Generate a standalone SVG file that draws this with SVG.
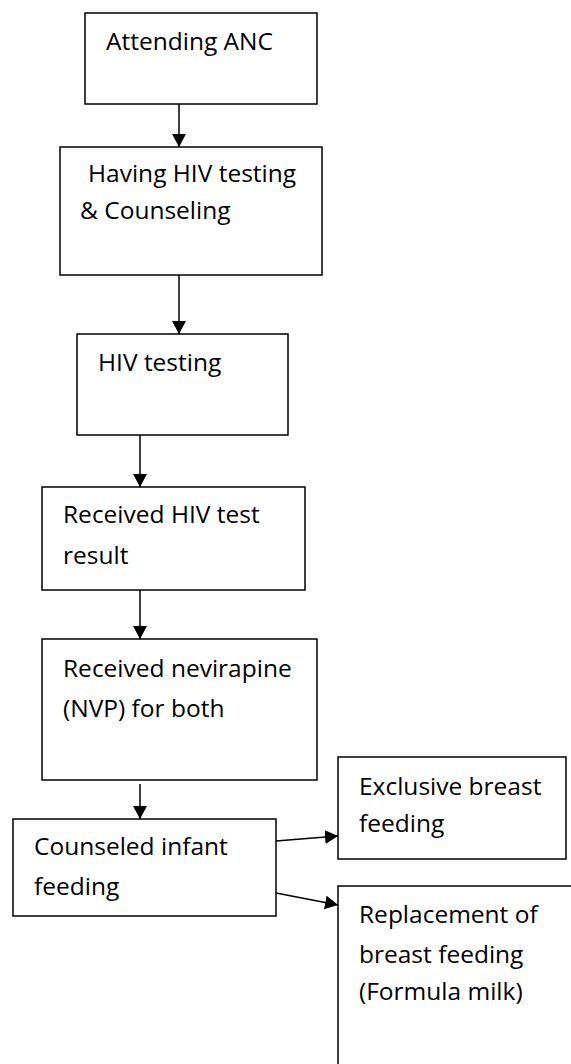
<svg xmlns="http://www.w3.org/2000/svg" width="571" height="1064" viewBox="0 0 571 1064">
  <style>
    .box { fill: #ffffff; stroke: #000000; stroke-width: 1.5; }
    .lbl { font-family: "Open Sans", "Liberation Sans", sans-serif; font-size: 24.5px; fill: #000000; }
    .edge { stroke: #000000; stroke-width: 1.5; fill: none; marker-end: url(#arrow); }
  </style>
  <defs>
    <marker id="arrow" markerUnits="userSpaceOnUse" markerWidth="14" markerHeight="14" refX="13" refY="7" orient="auto">
      <path d="M0,0 L13,7 L0,14 Z" fill="#000000"/>
    </marker>
  </defs>
  <rect width="571" height="1064" fill="#ffffff"/>

  <g id="connectors">
    <line class="edge" x1="179" y1="104" x2="179" y2="147"/>
    <line class="edge" x1="179" y1="275" x2="179" y2="334"/>
    <line class="edge" x1="140" y1="435" x2="140" y2="487"/>
    <line class="edge" x1="140" y1="590" x2="140" y2="639"/>
    <line class="edge" x1="140" y1="784" x2="140" y2="819"/>
    <line class="edge" x1="276" y1="841" x2="338" y2="836"/>
    <line class="edge" x1="276" y1="893" x2="338" y2="905"/>
  </g>

  <g id="attending-anc">
    <rect class="box" x="85" y="13" width="232" height="91"/>
    <text class="lbl" x="106" y="50">Attending ANC</text>
  </g>

  <g id="hiv-testing-counseling">
    <rect class="box" x="60" y="147" width="262" height="128"/>
    <text class="lbl" x="88" y="182">Having HIV testing</text>
    <text class="lbl" x="80" y="219">&amp; Counseling</text>
  </g>

  <g id="hiv-testing">
    <rect class="box" x="77" y="334" width="211" height="101"/>
    <text class="lbl" x="98" y="371">HIV testing</text>
  </g>

  <g id="test-result">
    <rect class="box" x="42" y="487" width="263" height="103"/>
    <text class="lbl" x="63" y="523">Received HIV test</text>
    <text class="lbl" x="63" y="564">result</text>
  </g>

  <g id="nevirapine">
    <rect class="box" x="42" y="639" width="275" height="141"/>
    <text class="lbl" x="63" y="677">Received nevirapine</text>
    <text class="lbl" x="63" y="717">(NVP) for both</text>
  </g>

  <g id="infant-feeding">
    <rect class="box" x="13" y="819" width="263" height="97"/>
    <text class="lbl" x="34" y="855">Counseled infant</text>
    <text class="lbl" x="34" y="895">feeding</text>
  </g>

  <g id="exclusive-breast-feeding">
    <rect class="box" x="338" y="757" width="228" height="102"/>
    <text class="lbl" x="359" y="795">Exclusive breast</text>
    <text class="lbl" x="359" y="832">feeding</text>
  </g>

  <g id="replacement-feeding">
    <rect class="box" x="338" y="886" width="260" height="200"/>
    <text class="lbl" x="359" y="923">Replacement of</text>
    <text class="lbl" x="359" y="963">breast feeding</text>
    <text class="lbl" x="359" y="1000">(Formula milk)</text>
  </g>
</svg>
